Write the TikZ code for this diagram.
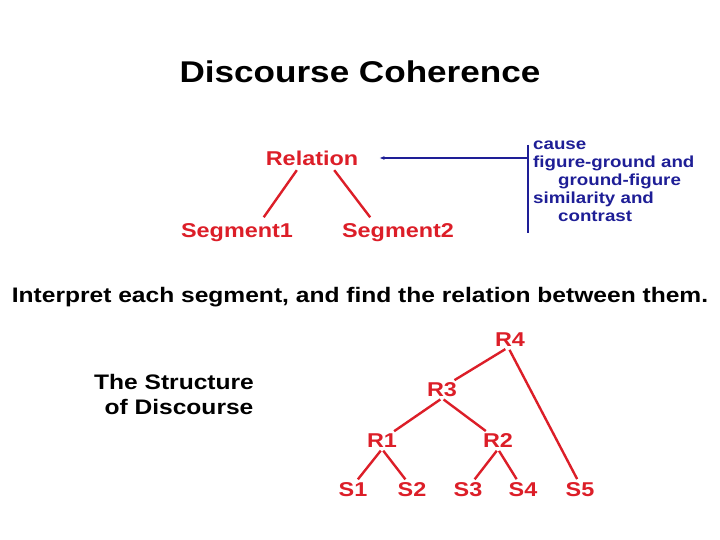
\documentclass[tikz,border=0pt]{standalone}
\usepackage{fontspec}
\setmainfont[FakeStretch=1.17]{Liberation Sans}
\usetikzlibrary{calc,arrows.meta}
\begin{document}
\begin{tikzpicture}[x=1pt,y=-1pt,
  red/.style={font=\bfseries\fontsize{20}{22}\selectfont, text=rd, inner sep=1pt},
  blk/.style={font=\bfseries\fontsize{21}{25}\selectfont, inner sep=1pt},
  edge/.style={draw=rd, line width=2.4pt, shorten <=2pt, shorten >=3pt}]
\definecolor{rd}{RGB}{220,30,40}
\definecolor{bl}{RGB}{30,30,150}
\useasboundingbox (0,0) rectangle (720,540);
\node[blk, font=\bfseries\fontsize{30}{34}\selectfont] (title) at (360,72) {Discourse Coherence};
\node[red] (rel) at (312,158) {Relation};
\node[red] (s1) at (237,233) {Segment1};
\node[red] (s2) at (398,233) {Segment2};
\draw[edge] ($(rel.south)+(-14,2)$) -- ($(s1.north)+(25,-3)$);
\draw[edge] ($(rel.south)+(21,2)$) -- ($(s2.north)+(-26,-3)$);
\coordinate (vt) at (528,145);
\coordinate (vb) at (528,233);
\draw[bl, line width=1.2pt] (vt) -- (vb);
\coordinate (ar) at (528,158);
\draw[bl, line width=1.6pt, -{Latex[length=5pt,width=4pt]}] (ar) -- ($(rel.east)+(20,0)$);
\node[anchor=north west, text=bl, font=\bfseries\fontsize{16}{18}\selectfont, align=left, inner sep=0pt] (list) at (533,141)
  {cause\\figure-ground and\\\hspace*{25pt}ground-figure\\similarity and\\\hspace*{25pt}contrast};
\node[blk] (interp) at (360,297) {Interpret each segment, and find the relation between them.};
\node[blk, align=center] (struct) at (174,394) {The Structure\\\hspace*{10pt}of Discourse};
\node[red] (R4) at (510,340) {R4};
\node[red] (R3) at (442,390) {R3};
\node[red] (R1) at (382,441) {R1};
\node[red] (R2) at (498,441) {R2};
\node[red] (S1) at (353,490) {S1};
\node[red] (S2) at (412,490) {S2};
\node[red] (S3) at (468,490) {S3};
\node[red] (S4) at (523,490) {S4};
\node[red] (S5) at (580,490) {S5};
\draw[edge] (R4.-110) -- (R3.40);
\draw[edge] (R4.-100) -- (S5.100);
\draw[edge] (R3.south) -- (R1.40);
\draw[edge] (R3.south) -- (R2.140);
\draw[edge] (R1.south) -- (S1.70);
\draw[edge] (R1.south) -- (S2.120);
\draw[edge] (R2.south) -- (S3.60);
\draw[edge] (R2.south) -- (S4.120);
\end{tikzpicture}
\end{document}
